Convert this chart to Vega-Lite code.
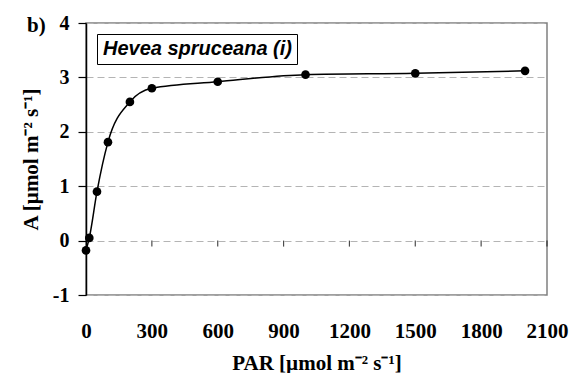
{
  "$schema": "https://vega.github.io/schema/vega-lite/v6.json",
  "width": 461,
  "height": 272,
  "autosize": {"type": "none"},
  "padding": {"left": 86, "top": 23, "right": 29, "bottom": 78},
  "background": "white",
  "title": {
    "text": "b)",
    "anchor": "start",
    "frame": "group",
    "orient": "top",
    "baseline": "alphabetic",
    "offset": 0,
    "dx": -59,
    "dy": 40,
    "font": "Liberation Serif",
    "fontSize": 21,
    "fontWeight": "bold",
    "color": "black"
  },
  "config": {
    "view": {"stroke": "#808080", "strokeWidth": 1.5},
    "axis": {
      "labelFont": "Liberation Serif",
      "labelFontSize": 20,
      "labelFontWeight": "bold",
      "labelColor": "black",
      "titleFont": "Liberation Serif",
      "titleFontSize": 21,
      "titleFontWeight": "bold",
      "titleColor": "black"
    }
  },
  "datasets": {
    "curve": [
      {"PAR": 0, "A": -0.18},
      {"PAR": 15, "A": 0.05},
      {"PAR": 50, "A": 0.9},
      {"PAR": 100, "A": 1.81},
      {"PAR": 200, "A": 2.55},
      {"PAR": 300, "A": 2.8},
      {"PAR": 600, "A": 2.92},
      {"PAR": 1000, "A": 3.05},
      {"PAR": 1500, "A": 3.075},
      {"PAR": 2000, "A": 3.12}
    ],
    "xticks": [
      {"PAR": 300}, {"PAR": 600}, {"PAR": 900}, {"PAR": 1200},
      {"PAR": 1500}, {"PAR": 1800}, {"PAR": 2100}
    ]
  },
  "layer": [
    {
      "mark": {"type": "rule", "color": "black", "strokeWidth": 1.2},
      "encoding": {"y": {"datum": 0, "type": "quantitative"}}
    },
    {
      "data": {"name": "xticks"},
      "mark": {"type": "tick", "orient": "vertical", "color": "black", "size": 6, "thickness": 1.2, "yOffset": 3},
      "encoding": {
        "x": {"field": "PAR", "type": "quantitative"},
        "y": {"datum": 0, "type": "quantitative"}
      }
    },
    {
      "data": {"name": "curve"},
      "mark": {"type": "line", "interpolate": "monotone", "color": "black", "strokeWidth": 1.5},
      "encoding": {
        "x": {
          "field": "PAR", "type": "quantitative",
          "scale": {"domain": [0, 2100], "nice": false},
          "axis": {
            "orient": "bottom",
            "values": [0, 300, 600, 900, 1200, 1500, 1800, 2100],
            "labelExpr": "'' + datum.value",
            "labelFontSize": 21,
            "title": "PAR [µmol m⁻² s⁻¹]",
            "titlePadding": 11,
            "ticks": false,
            "tickSize": 0,
            "domain": false,
            "grid": false,
            "labelPadding": 25,
            "labelFlush": false,
            "labelOverlap": false
          }
        },
        "y": {
          "field": "A", "type": "quantitative",
          "scale": {"domain": [-1, 4], "nice": false},
          "axis": {
            "values": [-1, 0, 1, 2, 3, 4],
            "labelExpr": "'' + datum.value",
            "title": "A [µmol m⁻² s⁻¹]",
            "titlePadding": 11,
            "domainColor": "black",
            "domainWidth": 1.5,
            "tickColor": "black",
            "tickSize": 8,
            "tickWidth": 1.2,
            "labelPadding": 9,
            "grid": true,
            "gridColor": "#b4b4b4",
            "gridDash": [7, 4],
            "gridWidth": 1,
            "labelFlush": false
          }
        }
      }
    },
    {
      "data": {"name": "curve"},
      "mark": {"type": "point", "filled": true, "opacity": 1, "size": 75, "shape": "circle"},
      "encoding": {
        "x": {"field": "PAR", "type": "quantitative"},
        "y": {"field": "A", "type": "quantitative"},
        "color": {
          "datum": "Hevea spruceana (i)",
          "scale": {"range": ["black"]},
          "legend": {
            "title": null,
            "orient": "top-left",
            "offset": 11,
            "padding": 5,
            "strokeColor": "black",
            "fillColor": "white",
            "symbolSize": 0,
            "symbolStrokeWidth": 0,
            "symbolOpacity": 0,
            "labelOffset": -19,
            "labelFont": "Liberation Sans",
            "labelFontSize": 20,
            "labelFontWeight": "bold",
            "labelFontStyle": "italic",
            "labelColor": "black",
            "labelLimit": 400,
            "encode": {"symbols": {"update": {"size": {"value": 0}, "opacity": {"value": 0}}}}
          }
        }
      }
    }
  ]
}
